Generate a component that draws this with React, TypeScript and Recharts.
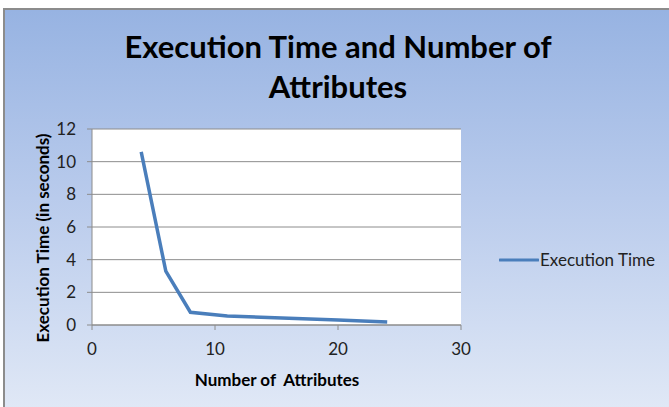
import React from 'react';
import { LineChart, Line, XAxis, YAxis, CartesianGrid } from 'recharts';

const attributes = [4, 6, 8, 11, 16, 20, 24];
const execTimes = [10.6, 3.3, 0.78, 0.55, 0.42, 0.3, 0.18];
const xTicks = [0, 10, 20, 30];
const yTicks = [0, 2, 4, 6, 8, 10, 12];

const FONT = 'Lato, "Open Sans", sans-serif';

export default function App() {
  const chartData = attributes.map((x, i) => ({ x, time: execTimes[i] }));

  return (
    <div style={{ position: 'absolute', left: 0, top: 0, width: 669, height: 407, background: '#fff', overflow: 'hidden', fontFamily: FONT }}>
      <div
        style={{
          position: 'absolute', left: 3, top: 8, width: 680, height: 420,
          borderLeft: '2px solid #8c8c8c', borderTop: '2px solid #8c8c8c',
          background: 'linear-gradient(to bottom, #97b3e2 0%, #b9cbec 45%, #e4ebf7 100%)'
        }}
      />
      <div style={{ position: 'absolute', left: 0, top: 26, width: 676, textAlign: 'center', fontWeight: 'bold', fontSize: 31, lineHeight: '40px', color: '#000' }}>
        Execution Time and Number of<br />Attributes
      </div>
      <div style={{ position: 'absolute', left: 0, top: 0 }}>
        <LineChart width={669} height={407} data={chartData} margin={{ top: 129, right: 208, left: 0, bottom: 32 }}>
          <CartesianGrid vertical={false} stroke="#8c8c8c" fill="#ffffff" />
          <XAxis
            dataKey="x"
            type="number"
            domain={[0, 30]}
            ticks={xTicks}
            height={50}
            stroke="#8c8c8c"
            tickSize={5}
            tickMargin={13}
            tick={{ fontSize: 17, fill: '#222', fontFamily: FONT }}
          />
          <YAxis
            type="number"
            domain={[0, 12]}
            ticks={yTicks}
            width={92}
            stroke="#8c8c8c"
            tickSize={5}
            tickMargin={11}
            tick={{ fontSize: 17, fill: '#222', fontFamily: FONT }}
          />
          <Line
            type="linear"
            dataKey="time"
            name="Execution Time"
            stroke="#4a7ebb"
            strokeWidth={3.5}
            dot={false}
            isAnimationActive={false}
          />
        </LineChart>
      </div>
      <div style={{ position: 'absolute', left: 277, top: 379, transform: 'translate(-50%, -50%)', whiteSpace: 'pre', fontSize: 17, fontWeight: 'bold', color: '#000' }}>
        Number of  Attributes
      </div>
      <div style={{ position: 'absolute', left: 42, top: 238, transform: 'translate(-50%, -50%) rotate(-90deg)', whiteSpace: 'pre', fontSize: 17, fontWeight: 'bold', color: '#000' }}>
        Execution Time (in seconds)
      </div>
      <div style={{ position: 'absolute', left: 499, top: 249, display: 'flex', alignItems: 'center', fontSize: 17, color: '#222' }}>
        <svg width={40} height={6}><line x1={1} y1={3} x2={39} y2={3} stroke="#4a7ebb" strokeWidth={3} strokeLinecap="round" /></svg>
        <span style={{ marginLeft: 1 }}>Execution Time</span>
      </div>
    </div>
  );
}
